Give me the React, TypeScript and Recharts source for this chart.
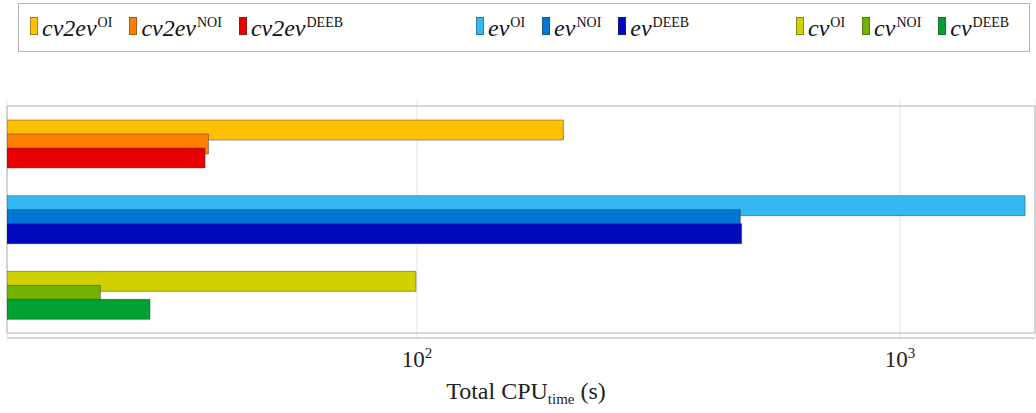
import React from "react";
import { Bar, BarChart, CartesianGrid, Cell, ReferenceArea, XAxis, YAxis } from "recharts";

document.body.style.margin = "0";

// groups, top to bottom
const categories = ["cv2ev", "ev", "cv"];
// Total CPU time (s) per method variant
const oiValues = [201, 1815, 99.5];
const noiValues = [37.0, 467, 22.1];
const deebValues = [36.4, 470, 28.0];
const variants = ["OI", "NOI", "DEEB"];
const xTicks = [100, 1000];
const xDomain = [14.16, 1903];

const palette: Record<string, string[]> = {
  cv2ev: ["#FFC000", "#FF8000", "#E80000"],
  ev: ["#33B8F0", "#0077D6", "#0008BE"],
  cv: ["#D1D000", "#72B200", "#00A032"],
};

const data = categories.map((name, i) => ({
  name,
  oi: oiValues[i],
  noi: noiValues[i],
  deeb: deebValues[i],
}));

const serif = '"Liberation Serif", "DejaVu Serif", serif';
const frame = "#b4b4b4";
const edge = "rgba(50,50,50,0.45)";

const PowerTick = (props: any) => {
  const { x, y, payload } = props;
  const exp = Math.round(Math.log10(payload.value));
  return (
    <text x={x} y={y + 29} textAnchor="middle" fontFamily={serif} fontSize={23} fill="#222">
      <tspan>10</tspan>
      <tspan dy={-9} fontSize={15}>
        {exp}
      </tspan>
    </text>
  );
};

const AxisTitle = (props: any) => {
  const { viewBox } = props;
  const cx = viewBox.x + viewBox.width / 2 + 5;
  return (
    <text x={cx} y={viewBox.y + 61} textAnchor="middle" fontFamily={serif} fontSize={24} fill="#222">
      <tspan>Total CPU</tspan>
      <tspan dy={5} fontSize={15}>
        time
      </tspan>
      <tspan dy={-5}> (s)</tspan>
    </text>
  );
};

const legendGroupLeft = [11, 457, 777];

function LegendBox() {
  return (
    <div
      style={{
        position: "absolute",
        left: 18,
        top: 3,
        width: 1012,
        height: 49,
        boxSizing: "border-box",
        border: `1px solid ${frame}`,
        background: "#fff",
      }}
    >
      {categories.map((cat, gi) => (
        <div
          key={cat}
          style={{ position: "absolute", left: legendGroupLeft[gi], top: 12, display: "flex", gap: 17 }}
        >
          {variants.map((v, vi) => (
            <div key={v} style={{ display: "flex", alignItems: "flex-start" }}>
              <span
                style={{
                  display: "inline-block",
                  width: 6,
                  height: 16,
                  marginTop: 1,
                  marginRight: 4,
                  background: palette[cat][vi],
                  border: `1px solid ${edge}`,
                }}
              />
              <span style={{ fontFamily: serif, fontSize: 24, lineHeight: "24px", color: "#111" }}>
                <span style={{ fontStyle: "italic" }}>{cat}</span>
                <span style={{ fontSize: 14, position: "relative", top: -9, marginLeft: 1 }}>{v}</span>
              </span>
            </div>
          ))}
        </div>
      ))}
    </div>
  );
}

export default function App() {
  return (
    <div style={{ position: "relative", width: 1036, height: 413, background: "#fff" }}>
      <LegendBox />
      <BarChart
        width={1036}
        height={413}
        layout="vertical"
        data={data}
        margin={{ top: 99, right: 1, bottom: 0, left: 7 }}
        barSize={20}
        barGap={-6}
      >
        <CartesianGrid horizontal={false} stroke="#e6e6e6" />
        <XAxis
          type="number"
          scale="log"
          domain={xDomain}
          ticks={xTicks}
          allowDataOverflow
          height={75}
          tickSize={0}
          tickMargin={0}
          tickLine={false}
          axisLine={{ stroke: frame }}
          tick={<PowerTick />}
          label={<AxisTitle />}
        />
        <YAxis
          type="category"
          dataKey="name"
          width={0}
          tick={false}
          tickLine={false}
          axisLine={{ stroke: frame }}
          padding={{ top: 7, bottom: 5 }}
        />
        <ReferenceArea x1={xDomain[0]} x2={xDomain[1]} fill="none" stroke={frame} ifOverflow="visible" />
        <Bar dataKey="oi" stroke={edge} isAnimationActive={false}>
          {data.map((d) => (
            <Cell key={d.name} fill={palette[d.name][0]} />
          ))}
        </Bar>
        <Bar dataKey="noi" stroke={edge} isAnimationActive={false}>
          {data.map((d) => (
            <Cell key={d.name} fill={palette[d.name][1]} />
          ))}
        </Bar>
        <Bar dataKey="deeb" stroke={edge} isAnimationActive={false}>
          {data.map((d) => (
            <Cell key={d.name} fill={palette[d.name][2]} />
          ))}
        </Bar>
      </BarChart>
    </div>
  );
}
